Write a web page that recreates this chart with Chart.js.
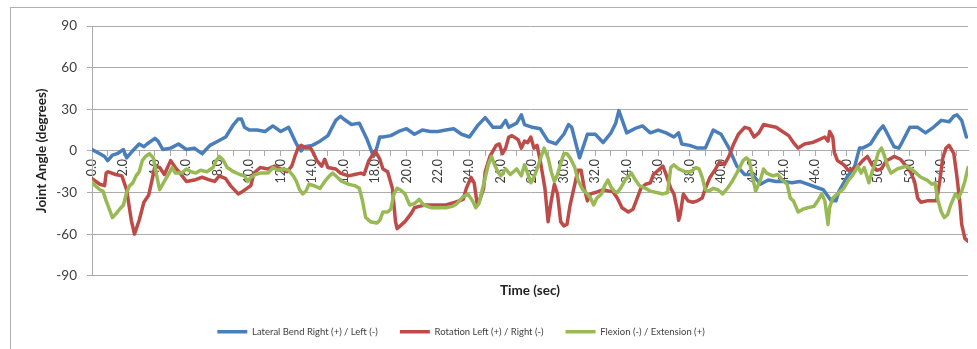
<!DOCTYPE html>
<html>
<head>
<meta charset="utf-8">
<script src="https://cdn.jsdelivr.net/npm/chart.js@4.4.1/dist/chart.umd.min.js"></script>
<style>
  html, body { margin: 0; padding: 0; background: #fff; overflow: hidden; }
  #frame { position: absolute; left: 10px; top: 7px; width: 1000px; height: 400px; border: 1px solid #b0b0b0; }
  #chart { position: absolute; left: 0; top: 0; }
</style>
</head>
<body>
<div id="frame"></div>
<canvas id="chart" width="977" height="349"></canvas>
<script>
// joint angles (time in sec, angle in degrees)
var lateralTime = [
  0, 0.5, 0.8, 1.0, 1.3, 1.6, 2.0, 2.2, 2.5, 3.0,
  3.3, 3.5, 4.0, 4.2, 4.5, 5.0, 5.5, 6.0, 6.5, 7.0,
  7.5, 8.0, 8.5, 9.0, 9.3, 9.5, 9.7, 10.0, 10.5, 11.0,
  11.5, 12.0, 12.5, 13.0, 13.3, 13.5, 14.0, 14.5, 15.0, 15.5,
  15.8, 16.0, 16.5, 17.0, 17.5, 17.9, 18.0, 18.3, 18.5, 19.0,
  19.5, 20.0, 20.5, 21.0, 21.5, 22.0, 22.5, 23.0, 23.5, 24.0,
  24.5, 25.0, 25.5, 26.0, 26.3, 26.5, 27.0, 27.3, 27.5, 28.0,
  28.5, 29.0, 29.5, 30.0, 30.3, 30.5, 31.0, 31.5, 32.0, 32.5,
  33.0, 33.3, 33.5, 34.0, 34.5, 35.0, 35.5, 36.0, 36.5, 37.0,
  37.3, 37.5, 38.0, 38.5, 39.0, 39.5, 40.0, 40.5, 41.0, 41.5,
  42.0, 42.5, 43.0, 43.5, 44.0, 44.5, 45.0, 45.5, 46.0, 46.5,
  47.0, 47.3, 47.5, 48.0, 48.5, 48.8, 49.0, 49.5, 50.0, 50.3,
  50.5, 51.0, 51.3, 51.5, 52.0, 52.5, 53.0, 53.5, 54.0, 54.5,
  54.8, 55.0, 55.3, 55.6
];
var lateralDeg = [
  1, -2, -4, -7, -3, -2, 1, -5, -1, 5,
  3, 5, 9, 7, 1, 2, 5, 1, 2, -2,
  4, 7, 10, 19, 23, 23, 17, 15, 15, 14,
  18, 14, 17, 5, 0, 3, 4, 7, 11, 22,
  25, 23, 19, 20, 8, -4, -2, 10, 10, 11,
  14, 16, 12, 15, 14, 14, 15, 16, 12, 10,
  18, 24, 17, 17, 22, 17, 20, 26, 19, 17,
  16, 7, 5, 12, 19, 17, -5, 12, 12, 6,
  13, 20, 29, 13, 16, 18, 13, 15, 13, 10,
  13, 5, 4, 2, 2, 15, 12, 2, -11, -17,
  -17, -24, -21, -22, -22, -23, -22, -24, -26, -28,
  -36, -36, -29, -19, -11, 2, 2, 5, 14, 18,
  14, 3, 2, 6, 17, 17, 13, 17, 22, 21,
  25, 26, 22, 10
];

var rotationTime = [
  0, 0.5, 0.8, 0.9, 1.0, 1.5, 1.9, 2.2, 2.5, 2.7,
  3.0, 3.3, 3.6, 3.8, 4.0, 4.3, 4.6, 5.0, 5.3, 5.6,
  6.0, 6.5, 7.0, 7.5, 7.8, 8.1, 8.5, 8.8, 9.3, 9.6,
  10.1, 10.3, 10.7, 11.2, 11.6, 12.0, 12.4, 12.7, 12.9, 13.1,
  13.3, 13.6, 13.9, 14.1, 14.3, 14.6, 14.8, 15.0, 15.5, 15.8,
  16.3, 16.7, 17.1, 17.3, 17.6, 18.0, 18.3, 18.5, 18.8, 19.1,
  19.3, 19.4, 19.9, 20.3, 20.5, 20.8, 21.2, 21.9, 22.5, 23.1,
  23.6, 23.8, 24.1, 24.3, 24.5, 24.7, 24.9, 25.0, 25.3, 25.5,
  25.7, 25.9, 26.1, 26.3, 26.5, 26.7, 27.1, 27.3, 27.5, 27.7,
  27.9, 28.1, 28.3, 28.5, 28.8, 29.0, 29.2, 29.4, 29.6, 29.8,
  30.0, 30.2, 30.4, 30.7, 30.9, 31.1, 31.3, 31.5, 31.7, 32.0,
  32.5, 32.9, 33.1, 33.4, 33.7, 34.1, 34.4, 34.6, 34.9, 35.2,
  35.5, 35.7, 36.0, 36.3, 36.5, 36.8, 37.0, 37.2, 37.3, 37.4,
  37.6, 37.9, 38.2, 38.5, 38.8, 39.0, 39.3, 39.6, 39.9, 40.2,
  40.5, 40.8, 41.1, 41.5, 41.8, 42.1, 42.4, 42.7, 43.1, 43.5,
  43.9, 44.3, 44.6, 44.9, 45.3, 45.8, 46.2, 46.6, 46.8, 46.9,
  47.1, 47.2, 47.4, 47.8, 48.1, 48.4, 48.7, 49.0, 49.3, 49.6,
  49.9, 50.2, 50.5, 50.7, 51.0, 51.4, 51.7, 52.0, 52.3, 52.5,
  52.7, 53.1, 53.4, 53.7, 53.9, 54.1, 54.3, 54.5, 54.8, 55.0,
  55.2, 55.3, 55.5, 55.7
];
var rotationDeg = [
  -20, -24, -25, -16, -15, -17, -18, -28, -50, -60,
  -50, -37, -32, -22, -11, -12, -17, -7, -12, -16,
  -22, -21, -19, -21, -22, -18, -20, -25, -31, -29,
  -25, -16, -12, -13, -11, -13, -15, -11, -4, 2,
  4, 2, 2, -2, -7, -11, -6, -12, -13, -16,
  -18, -17, -16, -17, -7, 0, -6, -13, -15, -27,
  -51, -56, -51, -45, -41, -40, -39, -39, -39, -37,
  -35, -27, -19, -23, -39, -34, -27, -15, -4, 0,
  4, 5, -2, 2, 10, 11, 8, 2, 7, 6,
  10, 2, 4, -7, -27, -51, -36, -24, -31, -51,
  -54, -53, -39, -24, -14, -14, -27, -36, -31, -30,
  -28, -29, -29, -34, -41, -44, -42, -36, -27, -24,
  -23, -17, -14, -11, -17, -27, -31, -42, -50, -46,
  -31, -36, -37, -36, -34, -27, -19, -14, -8, -10,
  -4, 5, 12, 17, 16, 10, 13, 19, 18, 17,
  14, 11, 6, 2, 5, 6, 8, 10, 7, 14,
  10, -1, -7, -10, -14, -13, -11, -7, -4, -10,
  -14, -13, -7, -6, -4, -6, -10, -14, -22, -34,
  -37, -36, -36, -36, -22, -5, 2, 4, -2, -19,
  -39, -53, -63, -65
];

var flexionTime = [
  0, 0.2, 0.5, 0.7, 0.9, 1.1, 1.3, 1.55, 1.75, 2.0,
  2.2, 2.4, 2.6, 2.8, 3.0, 3.2, 3.4, 3.65, 3.9, 4.1,
  4.3, 4.5, 4.8, 5.1, 5.3, 5.7, 6.0, 6.3, 6.6, 6.9,
  7.3, 7.7, 7.9, 8.1, 8.3, 8.6, 9.0, 9.4, 9.7, 9.9,
  10.1, 10.4, 10.7, 11.2, 11.5, 11.8, 12.2, 12.5, 12.8, 13.0,
  13.2, 13.4, 13.6, 13.8, 14.1, 14.5, 14.8, 15.1, 15.3, 15.6,
  15.9, 16.3, 16.7, 17.0, 17.2, 17.4, 17.7, 18.1, 18.3, 18.5,
  18.8, 19.0, 19.2, 19.4, 19.6, 19.9, 20.2, 20.5, 20.8, 21.1,
  21.6, 22.0, 22.5, 22.9, 23.2, 23.6, 23.9, 24.2, 24.4, 24.6,
  24.9, 25.2, 25.4, 25.6, 25.8, 26.0, 26.3, 26.6, 27.0, 27.3,
  27.5, 27.7, 27.9, 28.1, 28.3, 28.5, 28.75, 29.0, 29.2, 29.4,
  29.6, 29.8, 30.0, 30.2, 30.4, 30.7, 30.9, 31.2, 31.5, 31.7,
  31.9, 32.1, 32.4, 32.6, 32.8, 33.0, 33.2, 33.4, 33.6, 33.9,
  34.3, 34.5, 34.8, 35.2, 35.5, 35.9, 36.3, 36.6, 36.8, 37.0,
  37.3, 37.7, 38.1, 38.4, 38.6, 38.8, 39.0, 39.2, 39.5, 39.8,
  40.1, 40.4, 40.7, 41.0, 41.4, 41.6, 41.8, 42.0, 42.2, 42.5,
  42.7, 42.9, 43.3, 43.6, 43.9, 44.2, 44.4, 44.6, 44.9, 45.2,
  45.5, 45.9, 46.2, 46.4, 46.6, 46.8, 46.9, 47.1, 47.4, 47.8,
  48.1, 48.4, 48.7, 48.9, 49.1, 49.4, 49.6, 49.8, 50.0, 50.2,
  50.4, 50.6, 50.8, 51.2, 51.5, 51.8, 52.1, 52.4, 52.7, 53.1,
  53.4, 53.6, 53.8, 54.0, 54.2, 54.4, 54.6, 54.9, 55.1, 55.3,
  55.5, 55.7
];
var flexionDeg = [
  -22, -25, -28, -29, -36, -42, -48, -45, -42, -39,
  -30, -25, -23, -18, -15, -7, -4, -2, -5, -17,
  -28, -24, -18, -12, -16, -16, -13, -15, -16, -14,
  -15, -12, -7, -4, -6, -12, -15, -17, -18, -22,
  -19, -17, -16, -16, -12, -14, -13, -14, -18, -22,
  -28, -31, -29, -24, -25, -27, -22, -18, -16, -19,
  -22, -24, -25, -27, -36, -48, -51, -52, -50, -44,
  -44, -42, -31, -27, -28, -31, -39, -38, -35, -39,
  -41, -41, -41, -40, -38, -33, -31, -36, -41, -38,
  -24, -10, -4, -10, -15, -18, -13, -17, -13, -18,
  -10, -16, -23, -19, -13, -6, 2, -5, -15, -22,
  -17, -9, -2, -2, -5, -12, -21, -28, -31, -34,
  -39, -34, -31, -25, -21, -26, -29, -30, -27, -21,
  -16, -20, -25, -27, -29, -30, -31, -30, -12, -10,
  -13, -15, -15, -12, -13, -19, -28, -29, -27, -28,
  -31, -27, -22, -16, -7, -5, -7, -19, -29, -21,
  -13, -16, -18, -17, -21, -24, -34, -36, -44, -42,
  -41, -40, -35, -31, -36, -53, -41, -34, -31, -27,
  -21, -17, -11, -16, -12, -23, -15, -9, -1, 2,
  -4, -11, -16, -13, -12, -11, -13, -16, -19, -21,
  -24, -23, -36, -44, -48, -46, -39, -31, -34, -29,
  -22, -12
];

var seriesNames = ['Lateral Bend Right (+) / Left (-)', 'Rotation Left (+) / Right (-)', 'Flexion (-) / Extension (+)'];
var seriesColors = ['#4A7EBB', '#BE4B48', '#98B954'];
var yTicks = [-90, -60, -30, 0, 30, 60, 90];
var timeMax = 55.7;

function toPoints(times, vals)
{
  var pts = [];
  for (var i = 0; i < times.length; i++) {
    pts.push({x: times[i], y: vals[i]});
  }
  return pts;
}

function lineSet(idx, times, vals)
{
  return {
    label: seriesNames[idx],
    data: toPoints(times, vals),
    borderColor: seriesColors[idx],
    backgroundColor: seriesColors[idx],
    borderWidth: 3.5,
    pointRadius: 0,
    pointStyle: 'line',
    tension: 0,
    borderJoinStyle: 'round',
    borderCapStyle: 'round',
    order: 3 - idx
  };
}

var gridGrey = '#ababab';
var textGrey = '#404040';
var fontName = 'Lato, "Liberation Sans", sans-serif';

// nudge the legend so it sits where Excel put it
var legendShift = {
  id: 'legendShift',
  afterLayout: function(chart)
  {
    chart.legend.left -= 40;
    chart.legend.right -= 40;
  }
};

new Chart(document.getElementById('chart'), {
  type: 'line',
  data: {
    datasets: [
      lineSet(0, lateralTime, lateralDeg),
      lineSet(1, rotationTime, rotationDeg),
      lineSet(2, flexionTime, flexionDeg)
    ]
  },
  plugins: [legendShift],
  options: {
    responsive: false,
    animation: false,
    events: [],
    layout: { padding: { left: 34, right: 9, top: 26, bottom: 4 } },
    scales: {
      x: {
        type: 'linear',
        position: { y: 0 },
        min: 0,
        max: timeMax,
        grid: { drawOnChartArea: false, drawTicks: true, tickLength: 5, color: gridGrey },
        border: { color: gridGrey, width: 1 },
        ticks: {
          stepSize: 1,
          autoSkip: false,
          includeBounds: false,
          minRotation: 90,
          maxRotation: 90,
          padding: 3,
          color: textGrey,
          font: { family: fontName, size: 12.5 },
          callback: function(v) { return v % 2 === 0 ? v.toFixed(1) : ''; }
        }
      },
      x2: {
        type: 'linear',
        position: 'bottom',
        min: 0,
        max: timeMax,
        grid: { display: false, drawTicks: false },
        border: { display: false },
        ticks: { display: false },
        title: {
          display: true,
          text: 'Time (sec)',
          color: '#222',
          padding: { top: 7, bottom: 6 },
          font: { family: fontName, size: 13.5, weight: 'bold' }
        }
      },
      y: {
        min: -90,
        max: 90,
        afterFit: function(scale) { scale.width = 58; },
        afterBuildTicks: function(scale) {
          scale.ticks = yTicks.map(function(v) { return {value: v}; });
        },
        grid: { color: gridGrey, tickLength: 5 },
        border: { color: gridGrey, width: 1 },
        ticks: {
          padding: 10,
          color: textGrey,
          font: { family: fontName, size: 13.5 }
        },
        title: {
          display: true,
          text: 'Joint Angle (degrees)',
          color: '#222',
          padding: 0,
          font: { family: fontName, size: 13.5, weight: 'bold' }
        }
      }
    },
    plugins: {
      tooltip: { enabled: false },
      legend: {
        position: 'bottom',
        maxHeight: 40,
        labels: {
          usePointStyle: true,
          pointStyle: 'line',
          pointStyleWidth: 30,
          padding: 22,
          color: textGrey,
          font: { family: fontName, size: 9.5 },
          sort: function(a, b) { return a.datasetIndex - b.datasetIndex; }
        }
      }
    }
  }
});
</script>
</body>
</html>
